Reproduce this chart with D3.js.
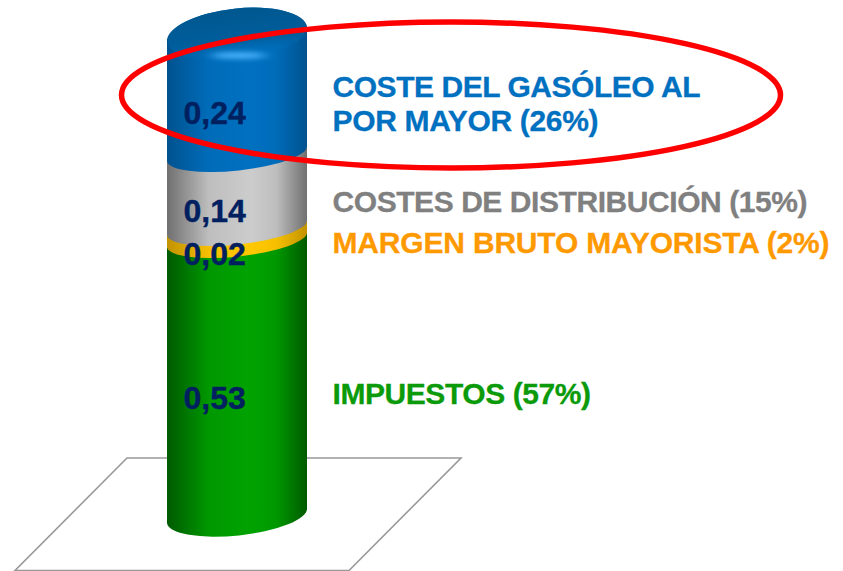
<!DOCTYPE html>
<html>
<head>
<meta charset="utf-8">
<script src="https://cdn.jsdelivr.net/npm/d3@7/dist/d3.min.js"></script>
<style>
  html, body { margin: 0; padding: 0; background: #fff; }
  svg { display: block; }
  text { font-family: "Liberation Sans", Arial, sans-serif; font-weight: bold; }
</style>
</head>
<body>
<div id="main"></div>
<script>
// stack order, from the floor up
const categories = ["IMPUESTOS", "MARGEN BRUTO MAYORISTA", "COSTES DE DISTRIBUCIÓN", "COSTE DEL GASÓLEO AL POR MAYOR"];
const values = [0.53, 0.02, 0.14, 0.24];
const shares = [57, 2, 15, 26];

const bodyColors = [
  ["#005a00", "#00a300"],
  ["#c29200", "#ffc800"],
  ["#707070", "#cccccc"],
  ["#00528f", "#0070c0"]
];
const textColors = ["#0a9a0a", "#ff9900", "#808080", "#0070c0"];

const width = 843, height = 571;
const cyl = { left: 167, right: 307, tilt: 15 };

const svg = d3.select("#main").append("svg")
    .attr("width", width)
    .attr("height", height);

const es = d3.formatLocale({ decimal: ",", thousands: ".", grouping: [3], currency: ["", "€"] });
const fmt = es.format(".2f");

// running totals for each band
let sum = 0;
const stack = values.map((v, i) => {
  const d = { i, v, y0: sum, y1: sum + v };
  sum += v;
  return d;
});

// the printed values are rounded, so the scale is pinned at each band edge
const y = d3.scaleLinear()
    .domain([0, stack[0].y1, stack[1].y1, stack[2].y1, stack[3].y1])
    .range([523, 247, 235, 161, 42]);

// gradients
const defs = svg.append("defs");
bodyColors.forEach((c, i) => {
  const g = defs.append("linearGradient")
      .attr("id", "body" + i)
      .attr("gradientUnits", "userSpaceOnUse")
      .attr("x1", cyl.left).attr("x2", cyl.right)
      .attr("y1", 0).attr("y2", 0);
  g.append("stop").attr("offset", "0").attr("stop-color", c[0]);
  g.append("stop").attr("offset", "0.3").attr("stop-color", d3.interpolateRgb(c[0], c[1])(0.85));
  g.append("stop").attr("offset", "0.6").attr("stop-color", c[1]);
  g.append("stop").attr("offset", "0.78").attr("stop-color", d3.interpolateRgb(c[0], c[1])(0.85));
  g.append("stop").attr("offset", "1").attr("stop-color", c[0]);
});
const capGrad = defs.append("linearGradient")
    .attr("id", "cap")
    .attr("x1", 0).attr("x2", 0).attr("y1", 0).attr("y2", 1);
capGrad.append("stop").attr("offset", "0").attr("stop-color", "#00578f");
capGrad.append("stop").attr("offset", "0.62").attr("stop-color", "#005e9c");
capGrad.append("stop").attr("offset", "0.92").attr("stop-color", "#0070c0").attr("stop-opacity", 0);
defs.append("filter").attr("id", "soft")
    .attr("x", "-30%").attr("y", "-150%").attr("width", "160%").attr("height", "400%")
  .append("feGaussianBlur").attr("stdDeviation", "6 2.5");

// floor
svg.append("path")
    .attr("d", "M127,458L461,458L349,570.5L15,570.5Z")
    .attr("fill", "none")
    .attr("stroke", "#999")
    .attr("stroke-width", 1.6);

const halfChord = Math.hypot(cyl.right - cyl.left, cyl.tilt) / 2;
const tiltDeg = -Math.atan2(cyl.tilt, cyl.right - cyl.left) * 180 / Math.PI;

// one band of the cylinder, between two front edges
function band(d) {
  const top = y(d.y1) - (d.i === 3 ? 0 : 1);
  const bot = y(d.y0);
  const ryTop = d.i === 3 ? 26 : 17;
  const ryBot = d.i === 0 ? 20 : 17;
  return `M${cyl.left},${top}`
    + `A${halfChord},${ryTop} ${tiltDeg} 0 ${d.i === 3 ? 1 : 0} ${cyl.right},${top - cyl.tilt}`
    + `L${cyl.right},${bot - cyl.tilt}`
    + `A${halfChord},${ryBot} ${tiltDeg} 0 1 ${cyl.left},${bot}Z`;
}

svg.selectAll("path.band")
  .data(stack)
  .join("path")
    .attr("class", "band")
    .attr("d", band)
    .attr("fill", d => `url(#body${d.i})`);

// cap on the top band
const capX = (cyl.left + cyl.right) / 2;
const capY = y(stack[3].y1) - cyl.tilt / 2;
svg.append("ellipse")
    .attr("cx", capX).attr("cy", capY)
    .attr("rx", halfChord - 1).attr("ry", 26)
    .attr("transform", `rotate(${tiltDeg} ${capX} ${capY})`)
    .attr("fill", "url(#cap)");
svg.append("ellipse")
    .attr("cx", capX + 2).attr("cy", capY + 21)
    .attr("rx", 28).attr("ry", 3.5)
    .attr("fill", "#45adf8")
    .attr("filter", "url(#soft)");

// values on the bands
const valueBase = [409, 265, 222, 123.5];
svg.selectAll("text.value")
  .data(stack)
  .join("text")
    .attr("class", "value")
    .attr("x", 183.5)
    .attr("y", d => valueBase[d.i])
    .attr("font-size", 32)
    .attr("fill", "#002060")
    .attr("stroke", "#002060")
    .attr("stroke-width", 0.4)
    .text(d => fmt(d.v));

// legend text beside the bands
const legendLines = [
  [`${categories[0]} (${shares[0]}%)`],
  [`${categories[1]} (${shares[1]}%)`],
  [`${categories[2]} (${shares[2]}%)`],
  ["COSTE DEL GASÓLEO AL", `POR MAYOR (${shares[3]}%)`]
];
const lineWidths = [[258.5], [497], [475], [368, 266]];
const legendBase = [404, 253, 212, 97];
const legend = svg.selectAll("text.legend")
  .data(legendLines.map((lines, i) => lines.map((t, j) => ({ t, w: lineWidths[i][j] }))))
  .join("text")
    .attr("class", "legend")
    .attr("font-size", 30)
    .attr("fill", (d, i) => textColors[i])
    .attr("stroke", (d, i) => textColors[i])
    .attr("stroke-width", 0.3)
    .attr("y", (d, i) => legendBase[i]);
legend.selectAll("tspan")
  .data(d => d)
  .join("tspan")
    .attr("x", 332.5)
    .attr("dy", (d, i) => i ? 34 : 0)
    .attr("textLength", d => d.w)
    .text(d => d.t);

// red callout
svg.append("ellipse")
    .attr("cx", 451).attr("cy", 95)
    .attr("rx", 329.5).attr("ry", 73)
    .attr("fill", "none")
    .attr("stroke", "#ff0000")
    .attr("stroke-width", 5.5);
</script>
</body>
</html>
